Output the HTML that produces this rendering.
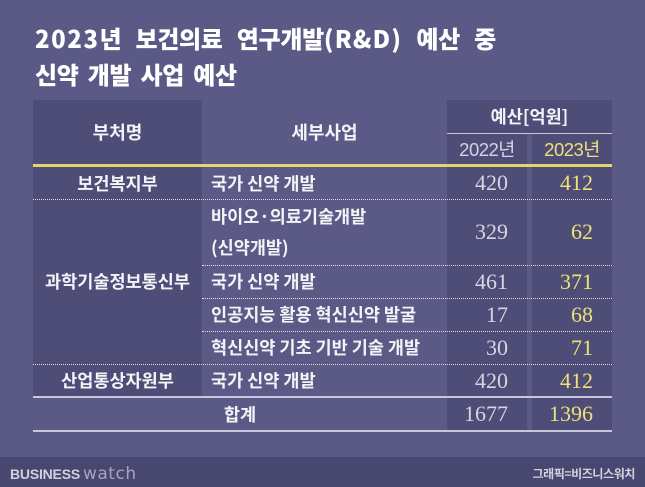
<!DOCTYPE html>
<html><head><meta charset="utf-8"><style>
*{margin:0;padding:0;box-sizing:border-box}
body{width:645px;height:487px;background:#5b5a87;position:relative;overflow:hidden;font-family:"Liberation Sans","Noto Sans CJK KR",sans-serif;color:#fff}
.a{position:absolute}
.c{position:absolute;display:flex;align-items:center;justify-content:center;white-space:nowrap}
.k{font-family:"Noto Sans CJK KR","Liberation Sans",sans-serif;font-size:17.5px;font-weight:700;color:#f4f4f8}
.l{justify-content:flex-start;padding-left:9px}
.n{font-family:"Liberation Serif",serif;font-size:22px;justify-content:flex-end;padding-right:19px}
.g{color:#d6d5e2}
.y{color:#eee07a}
.dot{position:absolute;height:0;border-top:1px dotted #dcdbe8}
.sol{position:absolute;height:2px;background:#c7c6da}
</style></head><body>

<!-- title -->
<div class="a" style="left:35px;top:20px;font-family:'Noto Sans CJK KR','Liberation Sans',sans-serif;font-weight:900;font-size:24px;line-height:36px;color:#fff;white-space:nowrap;word-spacing:4px;letter-spacing:-0.3px"><span style="word-spacing:9px"><span style="letter-spacing:1.5px">2023</span>년 보건의료 연구개발<span style="letter-spacing:1.2px">(R&amp;D)</span> 예산 중</span><br>신약 개발 사업 예산</div>

<!-- backgrounds -->
<div class="a" style="left:33px;top:100px;width:169px;height:297px;background:#4e4d77"></div>
<div class="a" style="left:447px;top:100px;width:165px;height:33px;background:#4e4d77"></div>
<div class="a" style="left:447px;top:133px;width:80px;height:297px;background:#4e4d77"></div>
<div class="a" style="left:532px;top:133px;width:80px;height:297px;background:#4e4d77"></div>
<div class="a" style="left:447px;top:133px;width:165px;height:1px;background:#c9c8da"></div>
<div class="a" style="left:33px;top:164px;width:579px;height:3px;background:#e4d56c"></div>

<!-- footer -->
<div class="a" style="left:0;top:457px;width:645px;height:30px;background:#48476f"></div>
<div class="a" style="left:10px;top:462px;height:24px;line-height:24px;white-space:nowrap">
<span style="font-family:'Liberation Sans',sans-serif;font-weight:bold;font-size:14px;color:#d2d1de;letter-spacing:-0.2px">BUSINESS</span><span style="font-family:'DejaVu Sans','Liberation Sans',sans-serif;font-size:17px;color:#a6a5c0;letter-spacing:0.5px;margin-left:3px">watch</span></div>
<div class="c" style="left:520px;top:463px;width:115px;height:20px;justify-content:flex-end;font-family:'Noto Sans CJK KR',sans-serif;font-weight:700;font-size:12px;color:#d4d3e0;letter-spacing:-0.4px">그래픽=비즈니스워치</div>

<!-- dotted lines -->
<div class="dot" style="left:33px;top:199px;width:579px"></div>
<div class="dot" style="left:202px;top:265px;width:410px"></div>
<div class="dot" style="left:202px;top:298px;width:410px"></div>
<div class="dot" style="left:202px;top:331px;width:410px"></div>
<div class="dot" style="left:33px;top:364px;width:579px"></div>
<div class="sol" style="left:33px;top:396px;width:579px"></div>
<div class="sol" style="left:33px;top:430px;width:579px"></div>

<!-- header texts -->
<div class="c k" style="left:33px;top:100px;width:169px;height:64px;font-size:18px">부처명</div>
<div class="c k" style="left:202px;top:100px;width:245px;height:64px;font-size:18px">세부사업</div>
<div class="c k" style="left:447px;top:100px;width:165px;height:33px;font-size:17.5px">예산[억원]</div>
<div class="c" style="left:447px;top:133px;width:80px;height:31px;font-size:18.5px;color:#d4d3e0;letter-spacing:-0.5px">2022년</div>
<div class="c" style="left:532px;top:133px;width:80px;height:31px;font-size:18.5px;color:#eee07a;letter-spacing:-0.5px">2023년</div>

<!-- row1 -->
<div class="c k" style="left:33px;top:167px;width:169px;height:32px">보건복지부</div>
<div class="c k l" style="left:202px;top:167px;width:245px;height:32px">국가 신약 개발</div>
<div class="c n g" style="left:447px;top:167px;width:80px;height:32px">420</div>
<div class="c n y" style="left:532px;top:167px;width:80px;height:32px">412</div>

<!-- 과학기술정보통신부 -->
<div class="c k" style="left:33px;top:199px;width:169px;height:165px">과학기술정보통신부</div>

<!-- row2 -->
<div class="a k" style="left:211px;top:201px;line-height:31px;white-space:nowrap">바이오·의료기술개발<br>(신약개발)</div>
<div class="c n g" style="left:447px;top:199px;width:80px;height:66px">329</div>
<div class="c n y" style="left:532px;top:199px;width:80px;height:66px">62</div>

<!-- row3 -->
<div class="c k l" style="left:202px;top:265px;width:245px;height:33px">국가 신약 개발</div>
<div class="c n g" style="left:447px;top:265px;width:80px;height:33px">461</div>
<div class="c n y" style="left:532px;top:265px;width:80px;height:33px">371</div>

<!-- row4 -->
<div class="c k l" style="left:202px;top:298px;width:245px;height:33px">인공지능 활용 혁신신약 발굴</div>
<div class="c n g" style="left:447px;top:298px;width:80px;height:33px">17</div>
<div class="c n y" style="left:532px;top:298px;width:80px;height:33px">68</div>

<!-- row5 -->
<div class="c k l" style="left:202px;top:331px;width:245px;height:33px">혁신신약 기초 기반 기술 개발</div>
<div class="c n g" style="left:447px;top:331px;width:80px;height:33px">30</div>
<div class="c n y" style="left:532px;top:331px;width:80px;height:33px">71</div>

<!-- row6 -->
<div class="c k" style="left:33px;top:364px;width:169px;height:33px">산업통상자원부</div>
<div class="c k l" style="left:202px;top:364px;width:245px;height:33px">국가 신약 개발</div>
<div class="c n g" style="left:447px;top:364px;width:80px;height:33px">420</div>
<div class="c n y" style="left:532px;top:364px;width:80px;height:33px">412</div>

<!-- total -->
<div class="c k" style="left:33px;top:398px;width:414px;height:32px">합계</div>
<div class="c n g" style="left:447px;top:398px;width:80px;height:32px">1677</div>
<div class="c n y" style="left:532px;top:398px;width:80px;height:32px">1396</div>

</body></html>
